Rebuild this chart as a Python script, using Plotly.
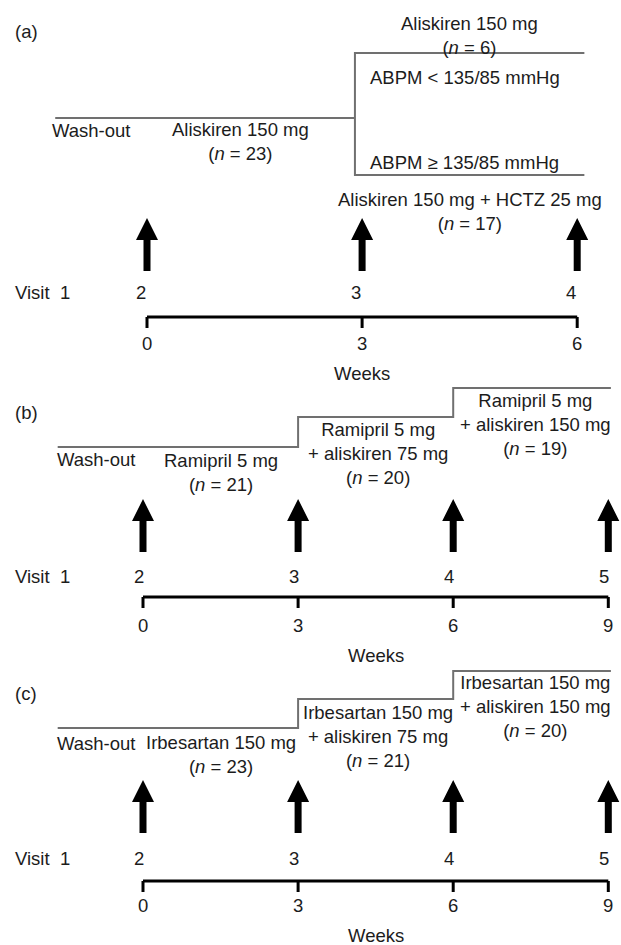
import plotly.graph_objects as go

W, H = 621, 945
FONT = "Liberation Sans, Arial, sans-serif"
TXT = "#1c1c1c"
GREY = "#707070"

# ---- data ----
# panel (a)
a_weeks = [0, 3, 6]
a_visits = ["2", "3", "4"]
a_branch_week = 2.9
a_end_week = 6.1
a_start_week = -1.28
a_first_label = "Aliskiren 150 mg<br>(<i>n</i> = 23)"
a_top_label = "Aliskiren 150 mg<br>(<i>n</i> = 6)"
a_low_label = "Aliskiren 150 mg + HCTZ 25 mg<br>(<i>n</i> = 17)"
a_abpm = ["ABPM < 135/85 mmHg", "ABPM ≥ 135/85 mmHg"]

# panel (b)
b_weeks = [0, 3, 6, 9]
b_visits = ["2", "3", "4", "5"]
b_steps = [-1.65, 3, 6, 9.05]
b_labels = ["Ramipril 5 mg<br>(<i>n</i> = 21)",
            "Ramipril 5 mg<br>+ aliskiren 75 mg<br>(<i>n</i> = 20)",
            "Ramipril 5 mg<br>+ aliskiren 150 mg<br>(<i>n</i> = 19)"]

# panel (c)
c_weeks = [0, 3, 6, 9]
c_visits = ["2", "3", "4", "5"]
c_steps = [-1.65, 3, 6, 9.05]
c_labels = ["Irbesartan 150 mg<br>(<i>n</i> = 23)",
            "Irbesartan 150 mg<br>+ aliskiren 75 mg<br>(<i>n</i> = 21)",
            "Irbesartan 150 mg<br>+ aliskiren 150 mg<br>(<i>n</i> = 20)"]

# layout per panel: pixel origin of week 0 and px per week
panels = {
    "a": dict(ax="x", origin=147, scale=71.7),
    "b": dict(ax="x2", origin=143, scale=51.7),
    "c": dict(ax="x3", origin=143, scale=51.7),
}

fig = go.Figure()
annotations = []


def text(xref, x, y, s, xanchor="center", size=18.5):
    annotations.append(dict(xref=xref, yref="y", x=x, y=y, text=s, showarrow=False,
                            xanchor=xanchor, yanchor="middle", align="center",
                            font=dict(family=FONT, size=size, color=TXT)))


def line(ax, xs, ys, color=GREY, width=2):
    fig.add_trace(go.Scatter(x=xs, y=ys, mode="lines", xaxis=ax, yaxis="y",
                             line=dict(color=color, width=width), hoverinfo="skip"))


def timeline(p, weeks, visits, tip, visit_y, bracket_y, tick_y, weeks_x, weeks_y):
    ax, sc = p["ax"], p["scale"]
    # arrows
    for w in weeks:
        d = lambda px: w + px / sc
        base = tip + 22
        bot = tip + 53
        fig.add_trace(go.Scatter(
            x=[d(-3.5), d(-3.5), d(-11), d(0), d(11), d(3.5), d(3.5), d(-3.5)],
            y=[bot, base, base, tip, base, base, bot, bot],
            fill="toself", fillcolor="black", mode="lines", line=dict(width=0, color="black"),
            xaxis=ax, yaxis="y", hoverinfo="skip"))
    # visits
    text("paper", 13 / W, visit_y, "Visit  1", xanchor="left")
    for w, v in zip(weeks, visits):
        text(ax, w - 0.08, visit_y, v)
    # bracket
    bx, by = [weeks[0], weeks[-1], None], [bracket_y, bracket_y, None]
    for w in weeks:
        bx += [w, w, None]
        by += [bracket_y, bracket_y + 11, None]
    line(ax, bx, by, color="black", width=3)
    for w in weeks:
        text(ax, w, tick_y, str(w))
    text(ax, weeks_x, weeks_y, "Weeks")


# ---- panel (a) ----
pa = panels["a"]
text("paper", 13 / W, 31, "(a)", xanchor="left")
line("x", [a_start_week, a_branch_week], [118, 118])
line("x", [a_end_week, a_branch_week, a_branch_week, a_end_week], [53, 53, 175, 175])
text("x", (50 - pa["origin"]) / pa["scale"], 130, "Wash-out", xanchor="left")
text("x", 1.31, 141, a_first_label)
text("x", 4.5, 35, a_top_label)
text("x", a_branch_week + 0.18, 77, a_abpm[0], xanchor="left")
text("x", a_branch_week + 0.18, 162, a_abpm[1], xanchor="left")
text("x", 4.5, 211, a_low_label)
timeline(pa, a_weeks, a_visits, tip=218, visit_y=292, bracket_y=317, tick_y=343,
         weeks_x=3, weeks_y=373)


# ---- panels (b), (c) ----
def stepped(p, tag, steps, labels, line_ys, wash_y, label_ys, tip, visit_y, bracket_y, tick_y, weeks_y, weeks, visits, tag_y):
    ax = p["ax"]
    xs, ys = [], []
    for i in range(len(steps) - 1):
        xs += [steps[i], steps[i + 1]]
        ys += [line_ys[i], line_ys[i]]
    line(ax, xs, ys)
    text("paper", 13 / W, tag_y, tag, xanchor="left")
    text(ax, steps[0] - 0.05, wash_y, "Wash-out", xanchor="left")
    centers = [1.5, 4.55, 7.6]
    for cx, lab, ly in zip(centers, labels, label_ys):
        text(ax, cx, ly, lab)
    timeline(p, weeks, visits, tip, visit_y, bracket_y, tick_y, 4.5, weeks_y)


stepped(panels["b"], "(b)", b_steps, b_labels, [447, 417, 388], 459, [472, 453, 424],
        tip=499, visit_y=576, bracket_y=597, tick_y=625, weeks_y=655,
        weeks=b_weeks, visits=b_visits, tag_y=412)
stepped(panels["c"], "(c)", c_steps, c_labels, [728, 699, 671], 743, [754, 736, 706],
        tip=780, visit_y=858, bracket_y=881, tick_y=905, weeks_y=935,
        weeks=c_weeks, visits=c_visits, tag_y=693)

axis_common = dict(visible=False, showgrid=False, zeroline=False, domain=[0, 1], anchor="y")
lay = dict(width=W, height=H, margin=dict(l=0, r=0, t=0, b=0), showlegend=False,
           plot_bgcolor="rgba(0,0,0,0)", paper_bgcolor="white",
           yaxis=dict(range=[H, 0], visible=False, showgrid=False, zeroline=False, domain=[0, 1]),
           annotations=annotations)
for key, p in panels.items():
    name = "xaxis" if p["ax"] == "x" else "xaxis" + p["ax"][1:]
    lay[name] = dict(axis_common, range=[-p["origin"] / p["scale"], (W - p["origin"]) / p["scale"]])
fig.update_layout(**lay)
fig.write_html("out.html", config={"displayModeBar": False},
               post_script="document.body.style.margin='0';document.body.style.overflow='hidden';")
